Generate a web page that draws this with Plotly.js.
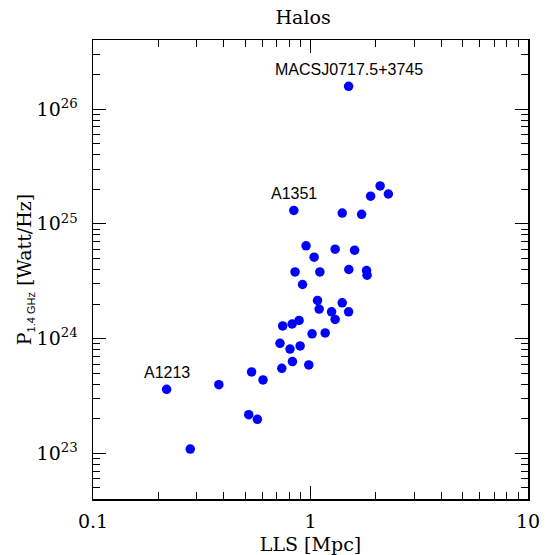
<!DOCTYPE html>
<html>
<head>
<meta charset="utf-8">
<script src="https://cdn.plot.ly/plotly-3.0.1.min.js"></script>
<style>html,body{margin:0;padding:0;background:#fff;}#plot{width:546px;height:555px;}</style>
</head>
<body>
<div id="plot"></div>
<script>
// Largest linear size (Mpc) and radio power at 1.4 GHz (W/Hz)
const lls = [1.497, 0.838, 1.399, 1.718, 1.89, 2.09, 2.28, 0.954, 1.298, 1.595,
             1.039, 0.849, 1.104, 1.50, 1.81, 1.82, 0.919, 1.077, 1.399, 1.096,
             1.25, 1.497, 1.298, 0.886, 0.823, 0.745, 1.017, 1.168, 0.724, 0.896,
             0.805, 0.826, 0.982, 0.738, 0.536, 0.605, 0.379, 0.218, 0.520, 0.570,
             0.280];
const power = [1.58e26, 1.31e25, 1.24e25, 1.21e25, 1.74e25, 2.14e25, 1.82e25, 6.43e24, 6.01e24, 5.89e24,
               5.12e24, 3.81e24, 3.81e24, 4.0e24, 3.92e24, 3.57e24, 2.96e24, 2.15e24, 2.05e24, 1.81e24,
               1.71e24, 1.71e24, 1.47e24, 1.44e24, 1.34e24, 1.29e24, 1.10e24, 1.12e24, 9.1e23, 8.63e23,
               8.1e23, 6.31e23, 5.89e23, 5.51e23, 5.12e23, 4.36e23, 3.97e23, 3.61e23, 2.17e23, 1.98e23,
               1.09e23];
// Named clusters (index into the arrays above)
const labelNames = ["MACSJ0717.5+3745", "A1351", "A1213"];
const labelIndex = [0, 1, 37];

const xTickVals = [0.1, 1, 10];
const xTickText = ["0.1", "1", "10"];
const yTickVals = [1e23, 1e24, 1e25, 1e26];
const yTickText = ["10<sup>23</sup>", "10<sup>24</sup>", "10<sup>25</sup>", "10<sup>26</sup>"];

const serif = "'DejaVu Serif', serif";

const trace = {
  x: lls, y: power, type: "scatter", mode: "markers",
  marker: {color: "#0000ff", size: 9.5, line: {width: 0}},
  hoverinfo: "x+y"
};

const annotations = labelNames.map((t, i) => ({
  x: Math.log10(lls[labelIndex[i]]),
  y: Math.log10(power[labelIndex[i]]),
  xref: "x", yref: "y",
  text: t, showarrow: false, yshift: 17,
  font: {family: "'Liberation Sans', Arial, sans-serif", size: 16, color: "#000"}
}));

const axisCommon = {
  type: "log",
  showgrid: false, zeroline: false,
  showline: true, linecolor: "#000", linewidth: 1.5, mirror: "allticks",
  ticks: "inside", ticklen: 13, tickwidth: 1, tickcolor: "#000",
  tickmode: "array",
  tickfont: {family: serif, size: 19, color: "#000"},
  minor: {ticks: "inside", ticklen: 7, tickwidth: 1, tickcolor: "#000", dtick: "D1", showgrid: false}
};

const layout = {
  width: 546, height: 555,
  margin: {l: 93, r: 18, t: 40, b: 56},
  paper_bgcolor: "#fff", plot_bgcolor: "#fff",
  showlegend: false,
  title: {text: "Halos", x: 0.483, xref: "paper", xanchor: "center", y: 0.968, yref: "container", yanchor: "middle",
          font: {family: serif, size: 19, color: "#000"}},
  xaxis: Object.assign({}, axisCommon, {
    range: [-1, 1],
    tickvals: xTickVals, ticktext: xTickText,
    ticklabelstandoff: 5,
    title: {text: "LLS [Mpc]", font: {family: serif, size: 19, color: "#000"}, standoff: 7}
  }),
  yaxis: Object.assign({}, axisCommon, {
    range: [Math.log10(4e22), Math.log10(4e26)],
    tickvals: yTickVals, ticktext: yTickText,
    ticklabelstandoff: 10,
    title: {text: "P<sub><span style=\"font-family:'Liberation Sans',Arial,sans-serif;font-size:11px\">1.4 GHz</span></sub> [Watt/Hz]",
            font: {family: serif, size: 19, color: "#000"}, standoff: 0}
  }),
  annotations: annotations
};

Plotly.newPlot("plot", [trace], layout, {displayModeBar: false, staticPlot: true});
</script>
</body>
</html>
